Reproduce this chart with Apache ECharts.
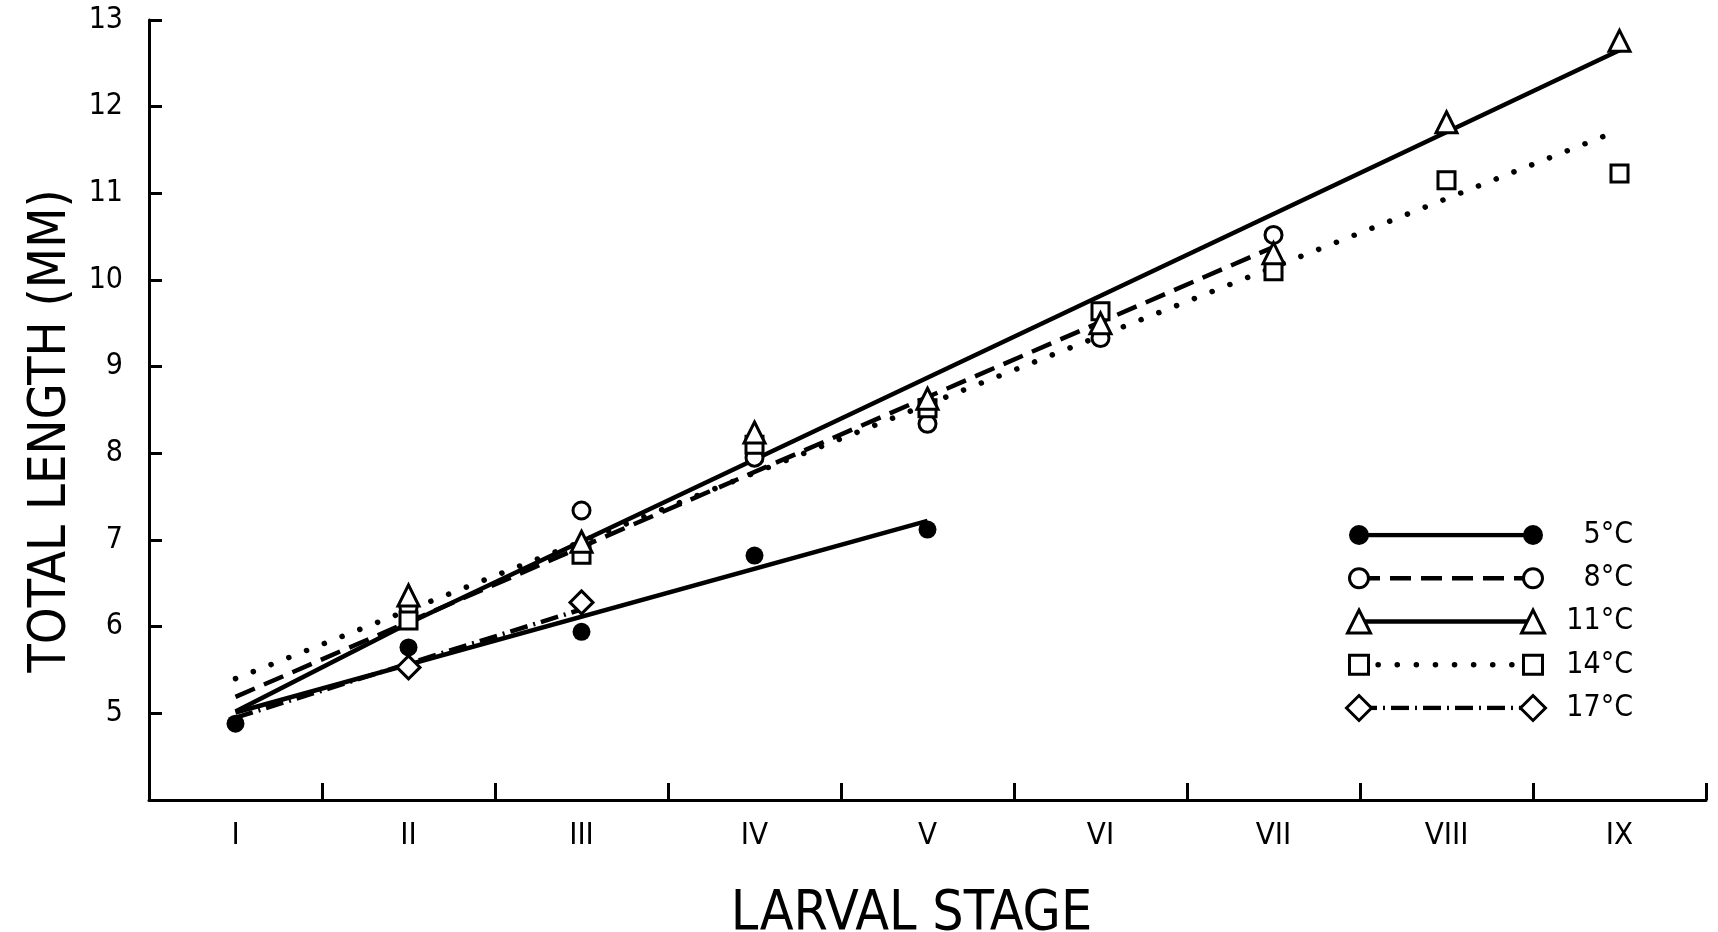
<!DOCTYPE html>
<html>
<head>
<meta charset="utf-8">
<script src="https://cdn.jsdelivr.net/npm/echarts@6/dist/echarts.min.js"></script>
<style>
html,body{margin:0;padding:0;background:#fff;}
#chart{width:1718px;height:932px;}
</style>
</head>
<body>
<div id="chart"></div>
<script>
// ---- data ----
const categories = ['I','II','III','IV','V','VI','VII','VIII','IX'];
const yTickValues = [5,6,7,8,9,10,11,12,13];

// observed points
const pts5  = [['I',4.88],['II',5.76],['III',5.94],['IV',6.82],['V',7.12]];
const pts8  = [['II',6.22],['III',7.34],['IV',7.95],['V',8.34],['VI',9.33],['VII',10.52]];
const pts11 = [['II',6.36],['III',6.98],['IV',8.24],['V',8.63],['VI',9.50],['VII',10.31],['VIII',11.82],['IX',12.76]];
const pts14 = [['II',6.07],['III',6.83],['IV',8.10],['V',8.52],['VI',9.64],['VII',10.10],['VIII',11.15],['IX',11.23]];
const pts17 = [['II',5.53],['III',6.28]];

// fitted lines
const fit5  = [['I',5.01],['V',7.22]];
const fit8  = [['I',5.19],['VII',10.38]];
const fit11 = [['I',5.02],['II',6.04],['IX',12.65]];
const fit14 = [['I',5.40],['IX',11.73]];
const fit17 = [['I',4.95],['III',6.20]];

const legendLabels = ['5°C','8°C','11°C','14°C','17°C'];

// ---- styles ----
const FONT = "'Liberation Sans Narrow','DejaVu Sans Condensed','Liberation Sans',sans-serif";
const BLACK = '#000';
const styles = {
  '5°C':  {symbol:'circle',   size:18, fill:BLACK,  line:{type:'solid', width:4.5, cap:'butt'}},
  '8°C':  {symbol:'circle',   size:17, fill:'#fff', line:{type:[21,10], width:4.5, cap:'butt'}},
  '11°C': {symbol:'triangle', size:21, fill:'#fff', line:{type:'solid', width:4.5, cap:'butt'}},
  '14°C': {symbol:'rect',     size:17, fill:'#fff', line:{type:[0.1,19], width:5.5, cap:'round'}},
  '17°C': {symbol:'diamond',  size:23, fill:'#fff', line:{type:[18,6,2,6], width:4.5, cap:'butt'}}
};
const ptsByLabel = {'5°C':pts5,'8°C':pts8,'11°C':pts11,'14°C':pts14,'17°C':pts17};
const fitByLabel = {'5°C':fit5,'8°C':fit8,'11°C':fit11,'14°C':fit14,'17°C':fit17};

const series = [];
legendLabels.forEach(function(lab){
  const s = styles[lab];
  series.push({
    name: lab + ' fit', type:'line', xAxisIndex:0, yAxisIndex:0,
    data: fitByLabel[lab], showSymbol:false, symbol:'none', z:2,
    lineStyle:{color:BLACK, width:s.line.width, type:s.line.type, cap:s.line.cap}
  });
});
// scatter order: circles, squares, triangles, diamonds, filled
['8°C','14°C','11°C','17°C','5°C'].forEach(function(lab, i){
  const s = styles[lab];
  series.push({
    name: lab, type:'scatter', xAxisIndex:0, yAxisIndex:0,
    data: ptsByLabel[lab], symbol:s.symbol, symbolSize:s.size, z:5+i,
    itemStyle:{color:s.fill, borderColor:BLACK, borderWidth: s.fill===BLACK?0:3, opacity:1}
  });
});
// legend key drawn in its own small grid
legendLabels.forEach(function(lab){
  const s = styles[lab];
  series.push({
    name: 'key ' + lab, type:'line', xAxisIndex:1, yAxisIndex:1,
    data: [[0,lab],[1,lab]], symbol:s.symbol, symbolSize:s.size+2, showSymbol:true, z:5,
    lineStyle:{color:BLACK, width:s.line.width, type:s.line.type, cap:s.line.cap},
    itemStyle:{color:s.fill, borderColor:BLACK, borderWidth: s.fill===BLACK?0:3}
  });
});

const chart = echarts.init(document.getElementById('chart'), null, {renderer:'canvas'});
chart.setOption({
  animation:false,
  backgroundColor:'#fff',
  grid:[
    {left:149, right:12, top:20, bottom:132, containLabel:false, outerBoundsMode:'none'},
    {left:1359, top:535, width:174, height:173, containLabel:false, outerBoundsMode:'none'}
  ],
  xAxis:[
    {
      type:'category', data:categories, boundaryGap:true, gridIndex:0,
      axisLine:{show:true, lineStyle:{color:BLACK, width:3}},
      axisTick:{show:true, inside:true, length:17, lineStyle:{color:BLACK, width:3}, interval:0, alignWithLabel:false},
      axisLabel:{color:BLACK, fontFamily:FONT, fontSize:31, margin:20, interval:0},
      name:'LARVAL STAGE', nameLocation:'middle', nameGap:87,
      nameTextStyle:{color:BLACK, fontFamily:FONT, fontSize:55, padding:[0,32,0,0]}
    },
    {type:'value', gridIndex:1, min:0, max:1, show:false}
  ],
  yAxis:[
    {
      type:'value', min:4, max:13, interval:1, gridIndex:0,
      axisLine:{show:true, lineStyle:{color:BLACK, width:3}},
      axisTick:{show:true, inside:true, length:13, lineStyle:{color:BLACK, width:3}},
      splitLine:{show:false},
      axisLabel:{color:BLACK, fontFamily:FONT, fontSize:30, margin:26,
        formatter:function(v){ return yTickValues.indexOf(v) >= 0 ? String(v) : ''; }},
      name:'TOTAL LENGTH (MM)', nameLocation:'middle', nameGap:70, nameRotate:90,
      nameTextStyle:{color:BLACK, fontFamily:FONT, fontSize:52, padding:[0,42,0,0]}
    },
    {
      type:'category', data:legendLabels, gridIndex:1, inverse:true, boundaryGap:false,
      position:'right',
      axisLine:{show:false}, axisTick:{show:false}, splitLine:{show:false},
      axisLabel:{color:BLACK, fontFamily:FONT, fontSize:30, margin:100, align:'right'}
    }
  ],
  series: series
});
</script>
</body>
</html>
